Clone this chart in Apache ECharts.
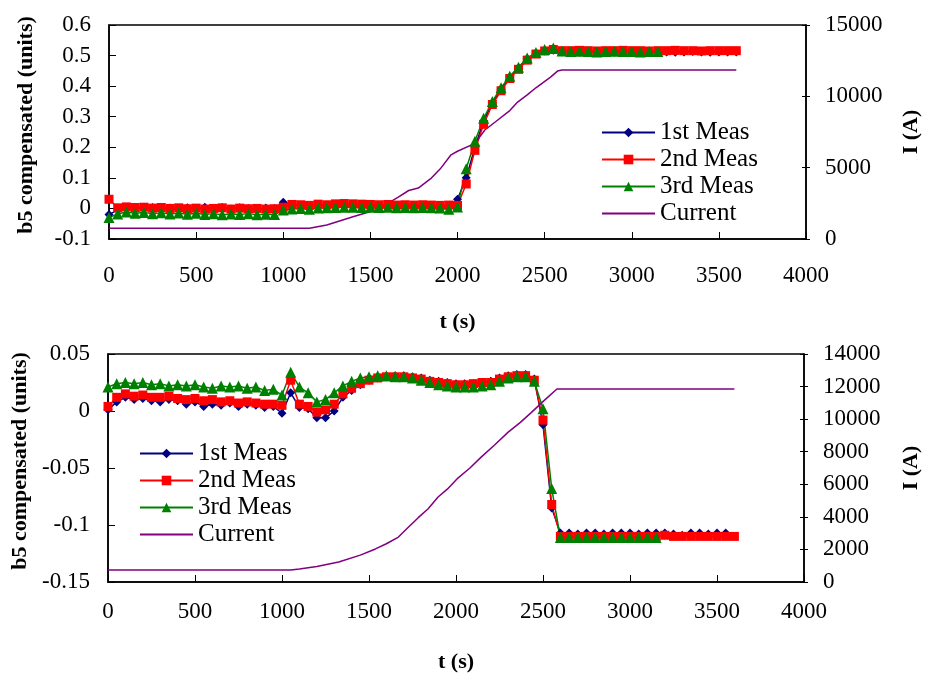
<!DOCTYPE html>
<html>
<head>
<meta charset="UTF-8">
<title>b5 compensated vs time</title>
<script src="https://cdn.jsdelivr.net/npm/echarts@6/dist/echarts.min.js"></script>
<style>
  html, body { margin: 0; padding: 0; background: #fff; }
  #chart { width: 930px; height: 681px; }
</style>
</head>
<body>
<div id="chart"></div>
<script>
// time samples (s)
const times = [0, 50, 100, 150, 200, 250, 300, 350, 400, 450, 500, 550, 600, 650, 700, 750, 800, 850, 900, 950,
  1000, 1050, 1100, 1150, 1200, 1250, 1300, 1350, 1400, 1450, 1500, 1550, 1600, 1650, 1700, 1750, 1800, 1850, 1900, 1950,
  2000, 2050, 2100, 2150, 2200, 2250, 2300, 2350, 2400, 2450, 2500, 2550, 2600, 2650, 2700, 2750, 2800, 2850, 2900, 2950,
  3000, 3050, 3100, 3150, 3200, 3250, 3300, 3350, 3400, 3450, 3500, 3550, 3600];

// top panel
const topMeas1 = [-0.02, -0.005, 0.002, 0.004, 0.0, 0.003, -0.002, 0.001, -0.003, 0.002, -0.001, 0.004, 0.0, 0.003, -0.002, 0.002, 0.0, -0.003, 0.001, 0.0,
  0.02, 0.012, 0.01, 0.008, 0.011, 0.009, 0.012, 0.01, 0.011, 0.009, 0.01, 0.008, 0.009, 0.007, 0.008, 0.006, 0.007, 0.006, 0.005, 0.006,
  0.03, 0.10, 0.20, 0.285, 0.345, 0.39, 0.43, 0.46, 0.49, 0.508, 0.515, 0.517, 0.512, 0.513, 0.511, 0.512, 0.513, 0.512, 0.511, 0.512,
  0.513, 0.512, 0.511, 0.512, 0.512, 0.511, 0.512, 0.513, 0.512, 0.511, 0.512, 0.512, 0.512];
const topMeas2 = [0.03, 0.002, 0.005, 0.003, 0.004, 0.001, 0.003, 0.0, 0.002, -0.001, 0.001, -0.002, 0.0, 0.002, -0.002, 0.001, -0.001, 0.0, -0.002, -0.001,
  0.004, 0.013, 0.012, 0.01, 0.014, 0.012, 0.015, 0.016, 0.015, 0.014, 0.013, 0.012, 0.013, 0.011, 0.012, 0.011, 0.012, 0.011, 0.01, 0.011,
  0.01, 0.08, 0.19, 0.275, 0.34, 0.385, 0.425, 0.455, 0.485, 0.505, 0.515, 0.52, 0.516, 0.516, 0.517, 0.516, 0.515, 0.516, 0.516, 0.517,
  0.516, 0.516, 0.515, 0.516, 0.516, 0.517, 0.516, 0.516, 0.515, 0.516, 0.516, 0.516, 0.516];
const topMeas3 = [-0.03, -0.018, -0.012, -0.016, -0.013, -0.017, -0.014, -0.018, -0.015, -0.019, -0.016, -0.02, -0.017, -0.021, -0.018, -0.02, -0.017, -0.021, -0.019, -0.02,
  -0.005, -0.002, 0.0, -0.003, 0.001, 0.002, 0.003, 0.004, 0.004, 0.003, 0.004, 0.003, 0.004, 0.002, 0.003, 0.002, 0.003, 0.002, 0.001, -0.003,
  0.005, 0.13, 0.22, 0.295, 0.35, 0.395, 0.432, 0.462, 0.492, 0.51, 0.52, 0.525, 0.515, 0.513, 0.514, 0.513, 0.512, 0.513, 0.514, 0.513,
  0.513, 0.512, 0.513, 0.513];
const topCurrent = [[0, 750], [1100, 750], [1150, 760], [1250, 980], [1400, 1560], [1530, 2030], [1600, 2500], [1660, 2940],
  [1720, 3400], [1775, 3570], [1850, 4270], [1900, 4900], [1963, 5900], [2000, 6150], [2100, 6700], [2157, 7640], [2231, 8340],
  [2300, 9000], [2345, 9600], [2400, 10100], [2450, 10600], [2534, 11350], [2574, 11770], [2600, 11850], [3600, 11850]];

// bottom panel
const botMeas1 = [0.001, 0.008, 0.012, 0.010, 0.011, 0.009, 0.008, 0.010, 0.009, 0.006, 0.008, 0.004, 0.006, 0.005, 0.007, 0.004, 0.006, 0.005, 0.003, 0.004,
  -0.002, 0.016, 0.003, 0.002, -0.006, -0.006, 0.0, 0.012, 0.018, 0.023, 0.027, 0.029, 0.030, 0.031, 0.031, 0.030, 0.029, 0.027, 0.026, 0.025,
  0.024, 0.024, 0.024, 0.025, 0.026, 0.029, 0.031, 0.032, 0.032, 0.028, -0.012, -0.085, -0.107, -0.107, -0.108, -0.107, -0.107, -0.108, -0.107, -0.107,
  -0.107, -0.108, -0.107, -0.107, -0.107, -0.108, -0.109, -0.107, -0.107, -0.108, -0.107, -0.107];
const botMeas2 = [0.004, 0.012, 0.015, 0.013, 0.014, 0.012, 0.012, 0.013, 0.011, 0.010, 0.011, 0.009, 0.010, 0.008, 0.009, 0.007, 0.008, 0.007, 0.006, 0.006,
  0.005, 0.027, 0.006, 0.004, -0.001, 0.001, 0.006, 0.015, 0.020, 0.024, 0.027, 0.029, 0.030, 0.030, 0.030, 0.029, 0.028, 0.026, 0.025, 0.024,
  0.023, 0.023, 0.024, 0.025, 0.025, 0.028, 0.030, 0.031, 0.031, 0.027, -0.008, -0.082, -0.110, -0.110, -0.110, -0.110, -0.110, -0.110, -0.110, -0.110,
  -0.110, -0.110, -0.110, -0.110, -0.109, -0.110, -0.110, -0.110, -0.110, -0.110, -0.110, -0.110, -0.110];
const botMeas3 = [0.021, 0.024, 0.025, 0.024, 0.025, 0.023, 0.024, 0.022, 0.023, 0.022, 0.023, 0.021, 0.020, 0.022, 0.021, 0.022, 0.020, 0.021, 0.018, 0.019,
  0.014, 0.034, 0.021, 0.016, 0.008, 0.010, 0.016, 0.022, 0.026, 0.029, 0.030, 0.031, 0.031, 0.030, 0.030, 0.029, 0.027, 0.025, 0.023, 0.022,
  0.021, 0.021, 0.021, 0.022, 0.023, 0.026, 0.029, 0.030, 0.030, 0.026, 0.002, -0.068, -0.111, -0.111, -0.111, -0.111, -0.111, -0.111, -0.111, -0.111,
  -0.111, -0.111, -0.111, -0.111];
const botCurrent = [[0, 740], [1050, 740], [1100, 800], [1200, 950], [1326, 1230], [1450, 1650], [1537, 2030], [1600, 2350],
  [1669, 2760], [1720, 3300], [1783, 3950], [1840, 4500], [1897, 5220], [1950, 5700], [2011, 6380], [2080, 7000], [2143, 7650],
  [2220, 8400], [2300, 9200], [2370, 9800], [2429, 10370], [2509, 11170], [2580, 11850], [3600, 11850]];

const names = ['1st Meas', '2nd Meas', '3rd Meas', 'Current'];
const colors = ['#000080', '#ff0000', '#008000', '#800080'];
const symbols = ['diamond', 'rect', 'triangle'];
const symbolSizes = [9, 9, 11];

const FONT = 'Liberation Serif, Times New Roman, serif';
const pair = vals => vals.map((v, i) => [times[i], v]);

function measSeries(k, vals, gi) {
  return {
    name: names[k], type: 'line', xAxisIndex: gi, yAxisIndex: gi * 2,
    data: pair(vals), symbol: symbols[k], symbolSize: symbolSizes[k], showAllSymbol: true,
    lineStyle: { color: colors[k], width: 1.5 },
    itemStyle: { color: colors[k] }
  };
}
function currentSeries(data, gi) {
  return {
    name: names[3], type: 'line', xAxisIndex: gi, yAxisIndex: gi * 2 + 1,
    data: data, showSymbol: false,
    lineStyle: { color: colors[3], width: 1.5 },
    itemStyle: { color: colors[3] }
  };
}

const axisTxt = { fontFamily: FONT, fontSize: 23, color: '#000' };
const nameTxt = { fontFamily: FONT, fontSize: 22, fontWeight: 'bold', color: '#000' };
const lineBlack = { onZero: false, lineStyle: { color: '#000', width: 1.5 } };
const fmt = v => String(Math.round(v * 1000) / 1000);
const plain = v => String(v);

function xAx(gi, gap, margin) {
  return {
    type: 'value', gridIndex: gi, min: 0, max: 4000, interval: 500,
    name: 't (s)', nameLocation: 'middle', nameGap: gap, nameTextStyle: nameTxt,
    axisLine: lineBlack, axisTick: { inside: true, length: 7, lineStyle: { color: '#000' } },
    axisLabel: Object.assign({ margin: margin, formatter: plain }, axisTxt), splitLine: { show: false }
  };
}
function yLeft(gi, min, max, iv) {
  return {
    type: 'value', gridIndex: gi, position: 'left', min: min, max: max, interval: iv,
    name: 'b5 compensated (units)', nameLocation: 'middle', nameRotate: 90, nameGap: 72,
    nameTextStyle: Object.assign({ padding: [0, 0, 0, 14] }, nameTxt),
    axisLine: Object.assign({ show: true }, lineBlack), axisTick: { show: true, inside: true, length: 7, lineStyle: { color: '#000' } },
    axisLabel: Object.assign({ margin: 18, formatter: fmt }, axisTxt), splitLine: { show: false }
  };
}
function yRight(gi, max, iv, gap) {
  return {
    type: 'value', gridIndex: gi, position: 'right', min: 0, max: max, interval: iv,
    name: 'I (A)', nameLocation: 'middle', nameRotate: 90, nameGap: gap, nameTextStyle: nameTxt,
    axisLine: Object.assign({ show: true }, lineBlack), axisTick: { show: true, length: 4, lineStyle: { color: '#000' } },
    axisLabel: Object.assign({ margin: 19, formatter: plain }, axisTxt), splitLine: { show: false }
  };
}
// second copy of a right axis, only for the inner half of its crossing ticks
function yRightInner(gi, max, iv) {
  return {
    type: 'value', gridIndex: gi, position: 'right', min: 0, max: max, interval: iv,
    axisLine: { show: false, onZero: false }, axisTick: { show: true, inside: true, length: 4, lineStyle: { color: '#000' } },
    axisLabel: { show: false }, splitLine: { show: false }
  };
}
function legend(left, top) {
  return {
    data: names.map((n, k) => k === 3 ? { name: n, itemStyle: { opacity: 0 } } : n),
    orient: 'vertical', left: left, top: top, itemWidth: 53, itemHeight: 12, itemGap: 0,
    textStyle: { fontFamily: FONT, fontSize: 25, color: '#000', lineHeight: 27 },
    selectedMode: false
  };
}

const chart = echarts.init(document.getElementById('chart'));
chart.setOption({
  backgroundColor: '#fff',
  animation: false,
  grid: [
    { left: 109, top: 25, width: 701, height: 214, show: true, borderColor: '#000', borderWidth: 1.5 },
    { left: 108, top: 354, width: 700, height: 228, show: true, borderColor: '#000', borderWidth: 1.5 }
  ],
  legend: [legend(596, 114), legend(134, 435)],
  xAxis: [xAx(0, 72, 25), xAx(1, 69, 18)],
  yAxis: [yLeft(0, -0.1, 0.6, 0.1), yRight(0, 15000, 5000, 94), yLeft(1, -0.15, 0.05, 0.05), yRight(1, 14000, 2000, 96),
    yRightInner(0, 15000, 5000), yRightInner(1, 14000, 2000)],
  series: [
    measSeries(0, topMeas1, 0), measSeries(1, topMeas2, 0), measSeries(2, topMeas3, 0), currentSeries(topCurrent, 0),
    measSeries(0, botMeas1, 1), measSeries(1, botMeas2, 1), measSeries(2, botMeas3, 1), currentSeries(botCurrent, 1)
  ]
});
</script>
</body>
</html>
